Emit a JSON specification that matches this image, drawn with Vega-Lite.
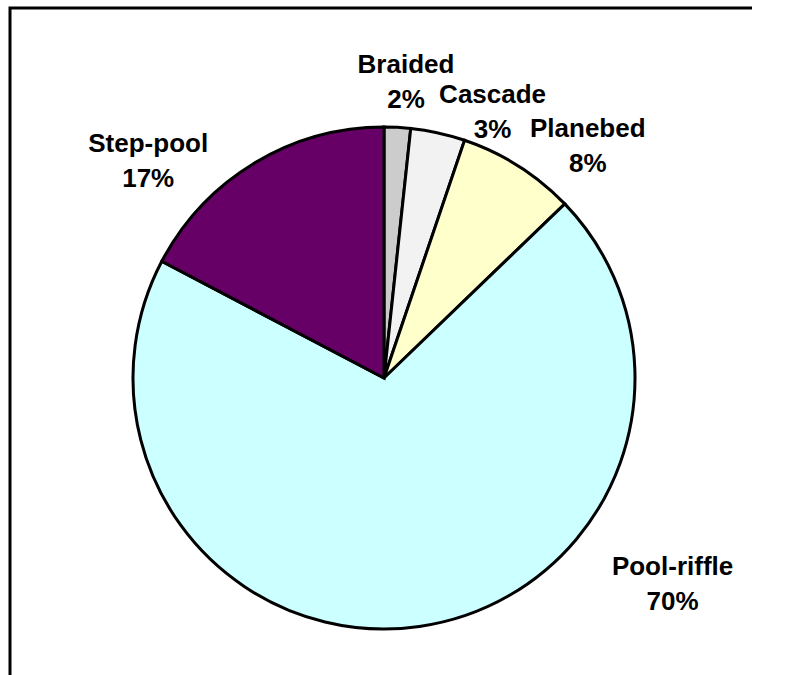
{
  "$schema": "https://vega.github.io/schema/vega-lite/v6.json",
  "width": 748,
  "height": 740,
  "autosize": {"type": "none"},
  "padding": {"left": 10, "top": 8, "right": 0, "bottom": 0},
  "background": "white",
  "view": {"stroke": "black", "strokeWidth": 3, "strokeDash": [742, 1496, 742, 10], "fill": "white"},
  "config": {
    "text": {"font": "Liberation Sans", "fontWeight": "bold", "fontSize": 26, "fill": "black", "align": "center", "baseline": "alphabetic"}
  },
  "data": {
    "values": [
      {"type": "Braided", "value": 1.7, "pct": "2%"},
      {"type": "Cascade", "value": 3.5, "pct": "3%"},
      {"type": "Planebed", "value": 7.6, "pct": "8%"},
      {"type": "Pool-riffle", "value": 69.9, "pct": "70%"},
      {"type": "Step-pool", "value": 17.3, "pct": "17%"}
    ]
  },
  "layer": [
    {
      "mark": {"type": "arc", "radius": 251, "stroke": "black", "strokeWidth": 3},
      "encoding": {
        "theta": {"field": "value", "type": "quantitative", "stack": true},
        "color": {
          "field": "type",
          "type": "nominal",
          "scale": {
            "domain": ["Braided", "Cascade", "Planebed", "Pool-riffle", "Step-pool"],
            "range": ["#CCCCCC", "#F2F2F2", "#FFFFCC", "#CCFFFF", "#660066"]
          },
          "legend": null
        },
        "order": {"field": "type"}
      }
    },
    {
      "transform": [{"filter": "datum.type === 'Braided'"}],
      "layer": [
        {"mark": {"type": "text", "theta": 0.074, "radius": 297, "dy": -8.5}, "encoding": {"text": {"field": "type"}}},
        {"mark": {"type": "text", "theta": 0.074, "radius": 297, "dy": 26.5}, "encoding": {"text": {"field": "pct"}}}
      ]
    },
    {
      "transform": [{"filter": "datum.type === 'Cascade'"}],
      "layer": [
        {"mark": {"type": "text", "theta": 0.3866, "radius": 288, "dy": -8.5}, "encoding": {"text": {"field": "type"}}},
        {"mark": {"type": "text", "theta": 0.3866, "radius": 288, "dy": 26.5}, "encoding": {"text": {"field": "pct"}}}
      ]
    },
    {
      "transform": [{"filter": "datum.type === 'Planebed'"}],
      "layer": [
        {"mark": {"type": "text", "theta": 0.7201, "radius": 309, "dy": -8.5}, "encoding": {"text": {"field": "type"}}},
        {"mark": {"type": "text", "theta": 0.7201, "radius": 309, "dy": 26.5}, "encoding": {"text": {"field": "pct"}}}
      ]
    },
    {
      "transform": [{"filter": "datum.type === 'Pool-riffle'"}],
      "layer": [
        {"mark": {"type": "text", "theta": 2.1886, "radius": 354, "dy": -8.5}, "encoding": {"text": {"field": "type"}}},
        {"mark": {"type": "text", "theta": 2.1886, "radius": 354, "dy": 26.5}, "encoding": {"text": {"field": "pct"}}}
      ]
    },
    {
      "transform": [{"filter": "datum.type === 'Step-pool'"}],
      "layer": [
        {"mark": {"type": "text", "theta": 5.4582, "radius": 321, "dy": -8.5}, "encoding": {"text": {"field": "type"}}},
        {"mark": {"type": "text", "theta": 5.4582, "radius": 321, "dy": 26.5}, "encoding": {"text": {"field": "pct"}}}
      ]
    }
  ]
}
